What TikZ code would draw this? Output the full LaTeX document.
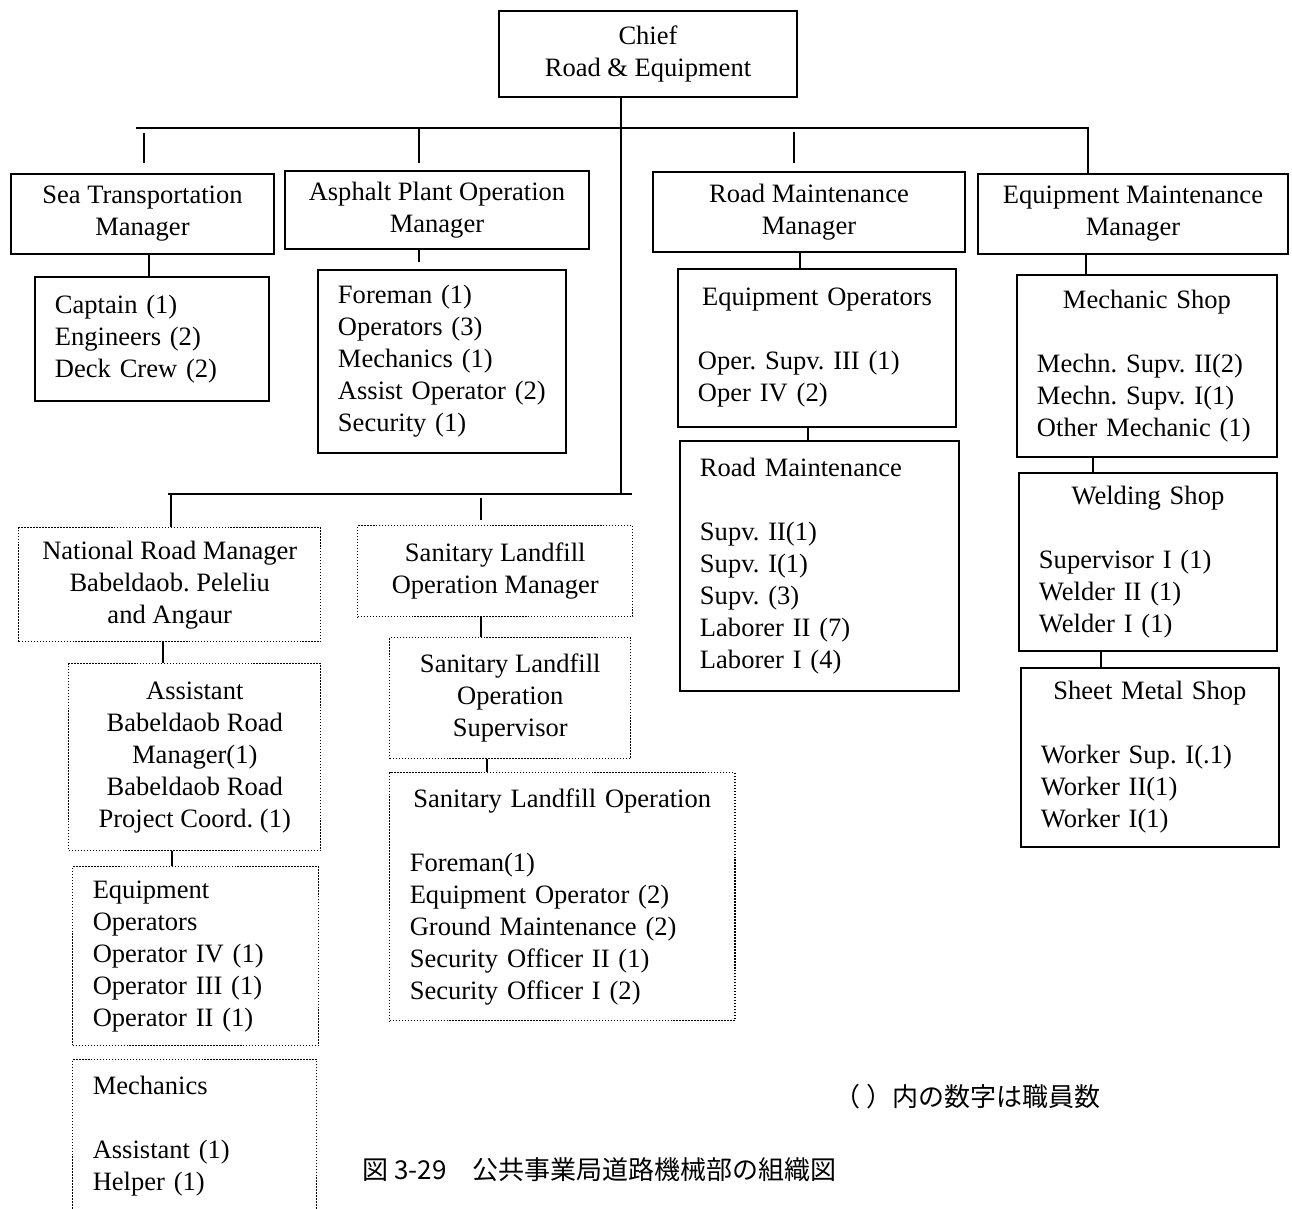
\documentclass[tikz,border=0pt]{standalone}
\usepackage{fontspec}
\setmainfont{Liberation Serif}
\newfontfamily\jpfont{Noto Sans CJK JP}
\frenchspacing

\newcommand{\chartfont}{\fontsize{15.1pt}{18.2pt}\selectfont}
% centred heading line inside a left-aligned roster
\newcommand{\boxhead}[1]{\hbox to\hsize{\hfil#1\hfil}}

\tikzset{
  post/.style={draw, line width=1.1pt, inner sep=0pt, anchor=north west, align=center},
  acting/.style={post, line width=0.85pt, dash pattern=on 0.85pt off 0.85pt},
  boxsize/.style 2 args={minimum width=#1*0.02cm, minimum height=#2*0.02cm},
  roster/.style={inner xsep=0.4cm, align=left, text width=#1},
  link/.style={line width=1.1pt}
}

\begin{document}
\begin{tikzpicture}[x=0.02cm, y=-0.02cm, font=\chartfont]
\useasboundingbox (0,0) rectangle (1292,1209);
\clip (0,0) rectangle (1292,1209);

%CHIEF
\node[post, boxsize={298}{86}] (chief) at (498,10) {Chief\\Road \& Equipment};

%MANAGERS
\node[post, boxsize={263}{80}] (sea) at (10,173) {Sea Transportation\\Manager};
\node[post, boxsize={304}{78}] (asphalt) at (284,170) {Asphalt Plant Operation\\Manager};
\node[post, boxsize={312}{80}] (roadmgr) at (652,171) {Road Maintenance\\Manager};
\node[post, boxsize={310}{80}] (equipmgr) at (977,173) {Equipment Maintenance\\Manager};

%STAFF
\node[post, boxsize={234}{124}, roster=3.88cm] (seacrew) at (34,276)
  {Captain (1)\\Engineers (2)\\Deck Crew (2)};
\node[post, boxsize={248}{183}, roster=4.16cm] (plantcrew) at (317,269)
  {Foreman (1)\\Operators (3)\\Mechanics (1)\\Assist Operator (2)\\Security (1)};
\node[post, boxsize={278}{158}, roster=4.76cm] (eqops) at (677,268)
  {\boxhead{Equipment Operators}\\[\baselineskip]Oper. Supv. III (1)\\Oper IV (2)};
\node[post, boxsize={279}{250}, roster=4.78cm] (roadcrew) at (679,440)
  {Road Maintenance\\[\baselineskip]Supv. II(1)\\Supv. I(1)\\Supv. (3)\\Laborer II (7)\\Laborer I (4)};
\node[post, boxsize={260}{182}, roster=4.4cm] (mechshop) at (1016,274)
  {\boxhead{Mechanic Shop}\\[\baselineskip]Mechn. Supv. II(2)\\Mechn. Supv. I(1)\\Other Mechanic (1)};
\node[post, boxsize={258}{178}, roster=4.36cm] (weldshop) at (1018,472)
  {\boxhead{Welding Shop}\\[\baselineskip]Supervisor I (1)\\Welder II (1)\\Welder I (1)};
\node[post, boxsize={258}{179}, roster=4.36cm] (sheetshop) at (1020,667)
  {\boxhead{Sheet Metal Shop}\\[\baselineskip]Worker Sup. I(.1)\\Worker II(1)\\Worker I(1)};

%DOTTED UNITS
\node[acting, boxsize={302}{114}] (natmgr) at (18,527) {National Road Manager\\Babeldaob. Peleliu\\and Angaur};
\node[acting, boxsize={275}{91}] (landmgr) at (357,525) {Sanitary Landfill\\Operation Manager};
\node[acting, boxsize={252}{187}] (asstmgr) at (68,663)
  {Assistant\\Babeldaob Road\\Manager(1)\\Babeldaob Road\\Project Coord. (1)};
\node[acting, boxsize={241}{121}] (landsupv) at (389,637) {Sanitary Landfill\\Operation\\Supervisor};
\node[acting, boxsize={345}{248}, roster=6.1cm] (landops) at (389,772)
  {\boxhead{Sanitary Landfill Operation}\\[\baselineskip]Foreman(1)\\Equipment Operator (2)\\Ground Maintenance (2)\\Security Officer II (1)\\Security Officer I (2)};
\node[acting, boxsize={246}{179}, roster=4.12cm] (natops) at (72,866)
  {Equipment\\Operators\\Operator IV (1)\\Operator III (1)\\Operator II (1)};
\node[acting, boxsize={244}{153}, roster=4.08cm] (natmech) at (72,1059)
  {Mechanics\\[\baselineskip]Assistant (1)\\Helper (1)};

%BUSES
\coordinate (topbusW) at (136,128);
\coordinate (topbusE) at (1088,128);
\coordinate (lowbusW) at (168,494);
\coordinate (lowbusE) at (632,494);
\draw[link] (621,0 |- chief.south) -- (621,0 |- lowbusE);
\draw[link] (topbusW) -- (topbusE) -- (topbusE |- equipmgr.north);
\draw[link] (lowbusW) -- (lowbusE);
\draw[link, shorten <=0.1cm, shorten >=0.2cm] (144,0 |- topbusW) -- (144,0 |- sea.north);
\draw[link, shorten >=0.14cm] (419,0 |- topbusW) -- (419,0 |- asphalt.north);
\draw[link, shorten <=0.08cm, shorten >=0.16cm] (794,0 |- topbusW) -- (794,0 |- roadmgr.north);
\draw[link] (171,0 |- lowbusW) -- (171,0 |- natmgr.north);
\draw[link, shorten <=0.08cm, shorten >=0.1cm] (481,0 |- lowbusW) -- (481,0 |- landmgr.north);

%DOWN THE COLUMNS
\draw[link] (149,0 |- sea.south) -- (149,0 |- seacrew.north);
\draw[link, shorten >=0.14cm] (419,0 |- asphalt.south) -- (419,0 |- plantcrew.north);
\draw[link] (800,0 |- roadmgr.south) -- (800,0 |- eqops.north);
\draw[link] (808,0 |- eqops.south) -- (808,0 |- roadcrew.north);
\draw[link] (1086,0 |- equipmgr.south) -- (1086,0 |- mechshop.north);
\draw[link] (1093,0 |- mechshop.south) -- (1093,0 |- weldshop.north);
\draw[link] (1101,0 |- weldshop.south) -- (1101,0 |- sheetshop.north);
\draw[link] (163,0 |- natmgr.south) -- (163,0 |- asstmgr.north);
\draw[link] (172,0 |- asstmgr.south) -- (172,0 |- natops.north);
\draw[link] (481,0 |- landmgr.south) -- (481,0 |- landsupv.north);
\draw[link] (487,0 |- landsupv.south) -- (487,0 |- landops.north);

%NOTES
\node[anchor=west, font=\jpfont\fontsize{14.8pt}{17pt}\selectfont, inner sep=0pt] (note) at (834,1097)
  {（\kern0.12cm）内の数字は職員数};
\node[anchor=west, font=\jpfont\fontsize{14.8pt}{17pt}\selectfont, inner sep=0pt] (caption) at (362,1170)
  {図 3-29　公共事業局道路機械部の組織図};
\end{tikzpicture}
\end{document}
